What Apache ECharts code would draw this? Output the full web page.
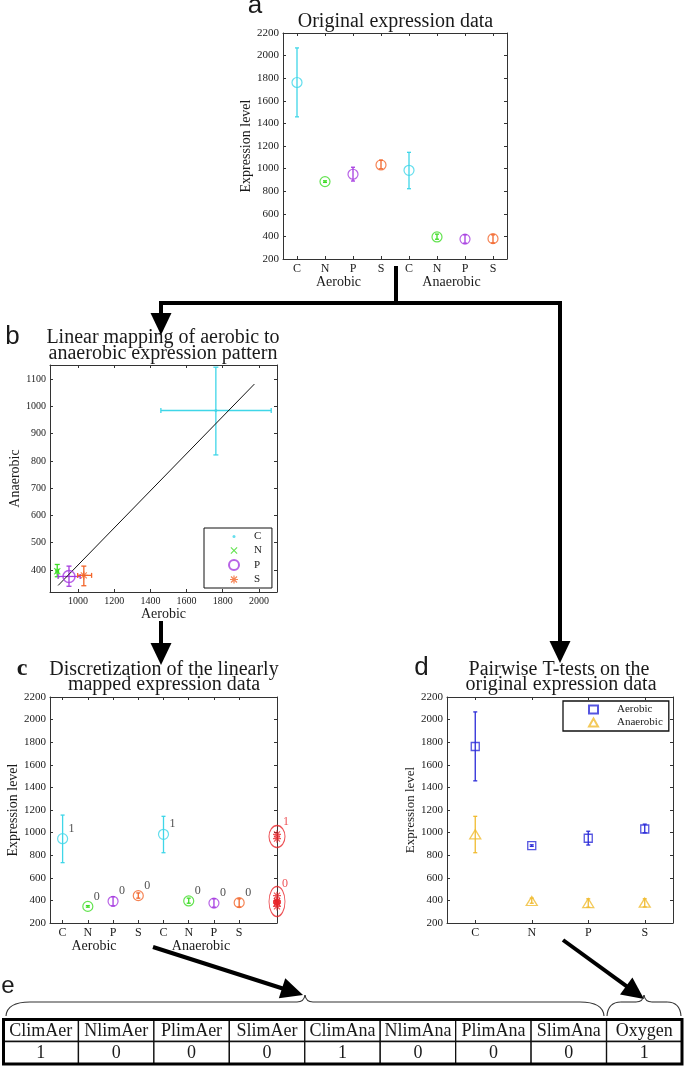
<!DOCTYPE html>
<html>
<head>
<meta charset="utf-8">
<script src="https://cdn.jsdelivr.net/npm/echarts@6/dist/echarts.min.js"></script>
<style>
html, body { margin: 0; padding: 0; background: #fff; }
#main { width: 685px; height: 1068px; }
</style>
</head>
<body>
<div id="main"></div>
<script type="text/javascript">
// original expression data (panels a, b, d)
var groups = ['C', 'N', 'P', 'S'];
var aerMean = [1762, 885, 950, 1032];
var aerLow = [1458, 878, 890, 998];
var aerHigh = [2068, 892, 1012, 1075];
var anaMean = [985, 395, 376, 380];
var anaLow = [822, 375, 340, 342];
var anaHigh = [1144, 420, 414, 414];

// linear fit aerobic -> anaerobic (panel b)
var fitX = [890, 1975];
var fitY = [343, 1082];

// aerobic data after the linear mapping (panel c)
var mapAerMean = [946, 347, 392, 442];
var mapAerLow = [734, 340, 352, 420];
var mapAerHigh = [1155, 354, 432, 466];
var discAer = [1, 0, 0, 0];
var discAna = [1, 0, 0, 0];
var clusterCenter = [966, 390];
var clusterLabel = ['1', '0'];

// discretized vector (panel e)
var tableHead = ['ClimAer', 'NlimAer', 'PlimAer', 'SlimAer', 'ClimAna', 'NlimAna', 'PlimAna', 'SlimAna', 'Oxygen'];
var tableVal = [1, 0, 0, 0, 1, 0, 0, 0, 1];

// ticks
var exprTicks = [200, 400, 600, 800, 1000, 1200, 1400, 1600, 1800, 2000, 2200];
var bXTicks = [1000, 1200, 1400, 1600, 1800, 2000];
var bYTicks = [400, 500, 600, 700, 800, 900, 1000, 1100];
var catLabels = groups.concat(groups);

var groupColor = ['#3fd6e8', '#3ddc25', '#a63ce0', '#f2652a'];
var aerColor = '#2b2bd8';
var anaColor = '#f0bb30';
var red = '#e8262b';
var INK = '#1a1a1a';
var AXIS = '#333';
var SERIF = '"Liberation Serif", serif';
var SANS = '"Liberation Sans", sans-serif';
var CLEAR = 'rgba(0,0,0,0)';

var dotPath = 'path://M0,0M10,10M3.5,5a1.5,1.5 0 1,0 3,0a1.5,1.5 0 1,0 -3,0Z';
var xPath = 'path://M0,0M10,10M1.5,2.3L2.3,1.5L5,4.2L7.7,1.5L8.5,2.3L5.8,5L8.5,7.7L7.7,8.5L5,5.8L2.3,8.5L1.5,7.7L4.2,5Z';
var starPath = 'path://M0,0M10,10M4.4,1h1.2v8h-1.2Z M1,4.4h8v1.2h-8Z M1.6,2.4L2.4,1.6L8.4,7.6L7.6,8.4Z M7.6,1.6L8.4,2.4L2.4,8.4L1.6,7.6Z';

function xPair(gi, min, max, ticks, fmt, fs, name, nameGap) {
  var base = {
    type: 'value', gridIndex: gi, min: min, max: max,
    splitLine: { show: false },
    axisLine: { onZero: false, lineStyle: { color: AXIS, width: 1 } },
    axisTick: { inside: true, length: 3, customValues: ticks, lineStyle: { color: AXIS } }
  };
  var bottom = Object.assign({}, base, {
    position: 'bottom',
    axisLabel: { customValues: ticks, formatter: fmt, fontFamily: SERIF, fontSize: fs, color: INK, margin: 4 }
  });
  if (name) {
    bottom.name = name; bottom.nameLocation = 'middle'; bottom.nameGap = nameGap;
    bottom.nameTextStyle = { fontFamily: SERIF, fontSize: 14, color: INK };
  }
  var top = Object.assign({}, base, { position: 'top', axisLabel: { show: false } });
  return [bottom, top];
}

function yPair(gi, min, max, ticks, fs, name, nameGap, nameSize) {
  var base = {
    type: 'value', gridIndex: gi, min: min, max: max,
    splitLine: { show: false },
    axisLine: { onZero: false, lineStyle: { color: AXIS, width: 1 } },
    axisTick: { inside: true, length: 3, customValues: ticks, lineStyle: { color: AXIS } }
  };
  var left = Object.assign({}, base, {
    position: 'left', name: name, nameLocation: 'middle', nameGap: nameGap,
    nameTextStyle: { fontFamily: SERIF, fontSize: nameSize, color: INK },
    axisLabel: { customValues: ticks, formatter: function (v) { return String(v); }, fontFamily: SERIF, fontSize: fs, color: INK, margin: 4 }
  });
  var right = Object.assign({}, base, { position: 'right', axisLabel: { show: false } });
  return [left, right];
}

function catFmt(v) { return catLabels[Math.round(v) - 1] || ''; }
function numFmt(v) { return String(v); }

// vertical error bars: [x, low, high]
function errBar(params, api) {
  var x = api.value(0);
  var a = api.coord([x, api.value(1)]);
  var b = api.coord([x, api.value(2)]);
  var c = 2;
  var st = { stroke: api.visual('color'), lineWidth: 1.3 };
  return { type: 'group', children: [
    { type: 'line', shape: { x1: a[0], y1: a[1], x2: b[0], y2: b[1] }, style: st },
    { type: 'line', shape: { x1: a[0] - c, y1: a[1], x2: a[0] + c, y2: a[1] }, style: st },
    { type: 'line', shape: { x1: b[0] - c, y1: b[1], x2: b[0] + c, y2: b[1] }, style: st }
  ] };
}

// 2D error bars: [x, y, xlo, xhi, ylo, yhi]
function errBar2(params, api) {
  var x = api.value(0), y = api.value(1);
  var l = api.coord([api.value(2), y]), r = api.coord([api.value(3), y]);
  var lo = api.coord([x, api.value(4)]), hi = api.coord([x, api.value(5)]);
  var c = 2.5;
  var st = { stroke: api.visual('color'), lineWidth: 1.3 };
  return { type: 'group', children: [
    { type: 'line', shape: { x1: l[0], y1: l[1], x2: r[0], y2: r[1] }, style: st },
    { type: 'line', shape: { x1: l[0], y1: l[1] - c, x2: l[0], y2: l[1] + c }, style: st },
    { type: 'line', shape: { x1: r[0], y1: r[1] - c, x2: r[0], y2: r[1] + c }, style: st },
    { type: 'line', shape: { x1: lo[0], y1: lo[1], x2: hi[0], y2: hi[1] }, style: st },
    { type: 'line', shape: { x1: lo[0] - c, y1: lo[1], x2: lo[0] + c, y2: lo[1] }, style: st },
    { type: 'line', shape: { x1: hi[0] - c, y1: hi[1], x2: hi[0] + c, y2: hi[1] }, style: st }
  ] };
}

function tableCell(params, api) {
  var col = api.value(0), row = api.value(1);
  var c = api.coord([col, row]);
  var s = api.size([1, 1]);
  var txt = row === 0 ? tableHead[col] : String(tableVal[col]);
  return { type: 'group', children: [
    { type: 'rect', shape: { x: c[0] - s[0] / 2, y: c[1] - s[1] / 2, width: s[0], height: s[1] },
      style: { fill: '#fff', stroke: '#111', lineWidth: 1.3 } },
    { type: 'text', style: { x: c[0], y: c[1] + 1, text: txt, align: 'center', verticalAlign: 'middle',
      fontFamily: SERIF, fontSize: 18, fill: INK } }
  ] };
}

// build data items
var aErr = [], aPts = [], cErr = [], cPts = [], cDisc = [], redPts = [];
groups.forEach(function (g, i) {
  aErr.push({ value: [i + 1, aerLow[i], aerHigh[i]], itemStyle: { color: groupColor[i] } });
  aErr.push({ value: [i + 5, anaLow[i], anaHigh[i]], itemStyle: { color: groupColor[i] } });
  aPts.push({ value: [i + 1, aerMean[i]], itemStyle: { borderColor: groupColor[i] } });
  aPts.push({ value: [i + 5, anaMean[i]], itemStyle: { borderColor: groupColor[i] } });
  cErr.push({ value: [i + 1, mapAerLow[i], mapAerHigh[i]], itemStyle: { color: groupColor[i] } });
  cErr.push({ value: [i + 5, anaLow[i], anaHigh[i]], itemStyle: { color: groupColor[i] } });
  cPts.push({ value: [i + 1, mapAerMean[i]], itemStyle: { borderColor: groupColor[i] } });
  cDisc.push(discAer[i]);
  cPts.push({ value: [i + 5, anaMean[i]], itemStyle: { borderColor: groupColor[i] } });
  cDisc.push(discAna[i]);
  redPts.push([9.5, mapAerMean[i]]);
  redPts.push([9.5, anaMean[i]]);
});

var bSymbols = [dotPath, xPath, 'circle', starPath];
var bSizes = [10, 10, 12, 10];
var bSeries = groups.map(function (g, i) {
  var hollow = g === 'P';
  return {
    type: 'scatter', name: g, xAxisIndex: 2, yAxisIndex: 2, z: 5,
    symbol: bSymbols[i], symbolSize: bSizes[i],
    itemStyle: hollow ? { color: CLEAR, borderColor: groupColor[i], borderWidth: 1.5 } : { color: groupColor[i] },
    data: [[aerMean[i], anaMean[i]]]
  };
});
var bErr = groups.map(function (g, i) {
  return { value: [aerMean[i], anaMean[i], aerLow[i], aerHigh[i], anaLow[i], anaHigh[i]], itemStyle: { color: groupColor[i] } };
});

var dAerErr = [], dAnaErr = [], dAer = [], dAna = [];
groups.forEach(function (g, i) {
  dAerErr.push([i + 1, aerLow[i], aerHigh[i]]);
  dAnaErr.push([i + 1, anaLow[i], anaHigh[i]]);
  dAer.push([i + 1, aerMean[i]]);
  dAna.push([i + 1, anaMean[i]]);
});

var tableData = [];
tableHead.forEach(function (h, i) { tableData.push([i, 0]); tableData.push([i, 1]); });

// annotation helpers
function text(x, y, str, font, extra) {
  var st = { text: str, font: font, fill: INK, align: 'center', verticalAlign: 'middle', textAlign: 'center', textVerticalAlign: 'middle' };
  if (extra) Object.assign(st, extra);
  return { type: 'text', x: x, y: y, silent: true, style: st };
}
function line(pts, w) {
  return { type: 'polyline', silent: true, shape: { points: pts }, style: { stroke: '#000', lineWidth: w, fill: null, lineJoin: 'miter' } };
}
function arrowHead(x0, y0, x1, y1, len, half) {
  var dx = x1 - x0, dy = y1 - y0, d = Math.sqrt(dx * dx + dy * dy);
  var ux = dx / d, uy = dy / d;
  var bx = x1 - ux * len, by = y1 - uy * len;
  return {
    base: [bx, by],
    head: { type: 'polygon', silent: true, shape: { points: [[x1, y1], [bx - uy * half, by + ux * half], [bx + uy * half, by - ux * half]] }, style: { fill: '#000' } }
  };
}
function arrow(x0, y0, x1, y1) {
  var h = arrowHead(x0, y0, x1, y1, 22, 10.5);
  return [line([[x0, y0], [h.base[0] + (x1 - x0) * 0.02, h.base[1] + (y1 - y0) * 0.02]], 4), h.head];
}
function curve(x1, y1, cx, cy, x2, y2) {
  return { type: 'bezierCurve', silent: true, shape: { x1: x1, y1: y1, cpx1: cx, cpy1: cy, x2: x2, y2: y2 },
    style: { stroke: '#333', lineWidth: 1.1, fill: null } };
}
function brace(x0, x1, tip, yTop, yEnd, r) {
  return [
    curve(x0, yEnd, x0 + 1, yTop, x0 + r, yTop),
    { type: 'line', silent: true, shape: { x1: x0 + r, y1: yTop, x2: tip - 8, y2: yTop }, style: { stroke: '#333', lineWidth: 1.1 } },
    curve(tip - 8, yTop, tip - 1, yTop, tip, yTop - 7),
    curve(tip, yTop - 7, tip + 1, yTop, tip + 8, yTop),
    { type: 'line', silent: true, shape: { x1: tip + 8, y1: yTop, x2: x1 - r, y2: yTop }, style: { stroke: '#333', lineWidth: 1.1 } },
    curve(x1 - r, yTop, x1 - 1, yTop, x1, yEnd)
  ];
}

var TITLE = '20px ' + SERIF;
var graphics = [
  text(255, 6, 'a', '26px ' + SANS),
  text(395.5, 22, 'Original expression data', TITLE),
  text(338.5, 282, 'Aerobic', '14px ' + SERIF),
  text(451.5, 282, 'Anaerobic', '14px ' + SERIF),
  text(12.5, 337, 'b', '26px ' + SANS),
  text(163, 338, 'Linear mapping of aerobic to', TITLE),
  text(163, 353.5, 'anaerobic expression pattern', TITLE),
  text(22, 669, 'c', 'bold 24px ' + SERIF),
  text(164, 669.5, 'Discretization of the linearly', TITLE),
  text(164, 684.5, 'mapped expression data', TITLE),
  text(94, 946, 'Aerobic', '14px ' + SERIF),
  text(201, 946, 'Anaerobic', '14px ' + SERIF),
  text(421.5, 668, 'd', '26px ' + SANS),
  text(559, 669.5, 'Pairwise T-tests on the', TITLE),
  text(561, 684.5, 'original expression data', TITLE),
  text(8, 986, 'e', '24px ' + SANS),
  // connector from panel a
  line([[396, 266], [396, 303]], 4),
  line([[161, 314], [161, 303], [560, 303], [560, 642]], 4),
  arrowHead(161, 303, 161, 335, 22, 10.5).head,
  arrowHead(560, 303, 560, 663, 22, 10.5).head,
  // table outer frame
  { type: 'rect', silent: true, z: 100, shape: { x: 3.5, y: 1019.5, width: 678.5, height: 44.5 }, style: { stroke: '#000', lineWidth: 3, fill: null } }
].concat(
  arrow(161, 621, 161, 665), arrow(153, 947, 303, 995), arrow(563, 940, 644, 999),
  brace(6, 604, 305, 1002, 1016, 24), brace(607, 681, 644, 1002, 1016, 14)
);

var xa = xPair(0, 0.5, 8.5, [1, 2, 3, 4, 5, 6, 7, 8], catFmt, 12);
var xb = xPair(1, 845, 2100, bXTicks, numFmt, 10, 'Aerobic', 14);
var xc = xPair(2, 0.5, 9.5, [1, 2, 3, 4, 5, 6, 7, 8], catFmt, 12);
var xd = xPair(3, 0.5, 4.5, [1, 2, 3, 4], function (v) { return groups[Math.round(v) - 1] || ''; }, 12);
var ya = yPair(0, 200, 2200, exprTicks, 11, 'Expression level', 28, 14);
var yb = yPair(1, 319, 1152, bYTicks, 10, 'Anaerobic', 24, 14);
var yc = yPair(2, 200, 2200, exprTicks, 11, 'Expression level', 29, 14);
var yd = yPair(3, 200, 2200, exprTicks, 11, 'Expression level', 22, 13);

var option = {
  backgroundColor: '#fff',
  animation: false,
  grid: [
    { left: 283, top: 33, width: 224, height: 226, outerBoundsMode: 'none' },
    { left: 50, top: 365, width: 227, height: 227, outerBoundsMode: 'none' },
    { left: 50, top: 697, width: 227, height: 226, outerBoundsMode: 'none' },
    { left: 447, top: 697, width: 226, height: 226, outerBoundsMode: 'none' },
    { left: 3, top: 1019, width: 679, height: 45, outerBoundsMode: 'none' }
  ],
  xAxis: xa.concat(xb, xc, xd, [{ type: 'category', gridIndex: 4, data: tableHead, show: false }]),
  yAxis: ya.concat(yb, yc, yd, [{ type: 'category', gridIndex: 4, data: ['head', 'val'], inverse: true, show: false }]),
  legend: [
    {
      data: [{ name: 'C', icon: dotPath }, 'N', 'P', 'S'],
      left: 204, top: 528, orient: 'vertical',
      itemWidth: 10, itemHeight: 10, itemGap: 3,
      padding: [3, 10, 3, 24],
      borderColor: '#111', borderWidth: 1, backgroundColor: '#fff',
      formatter: function (n) { return '{g| }' + n; },
      textStyle: { fontFamily: SERIF, fontSize: 11, color: INK, rich: { g: { width: 10 } } }
    },
    {
      data: ['Aerobic', 'Anaerobic'],
      left: 563, top: 701, orient: 'vertical',
      itemWidth: 9, itemHeight: 8, itemGap: 2,
      padding: [3, 6, 3, 25],
      borderColor: '#111', borderWidth: 1.3, backgroundColor: '#fff',
      formatter: function (n) { return '{g| }' + n; },
      textStyle: { fontFamily: SERIF, fontSize: 11, color: INK, rich: { g: { width: 14 } } }
    }
  ],
  graphic: graphics,
  series: [
    // panel a
    { type: 'custom', name: 'a-err', xAxisIndex: 0, yAxisIndex: 0, renderItem: errBar, data: aErr, silent: true },
    { type: 'scatter', name: 'a-pts', xAxisIndex: 0, yAxisIndex: 0, symbol: 'circle', symbolSize: 10,
      itemStyle: { color: CLEAR, borderWidth: 1.2 }, data: aPts, silent: true },
    // panel b
    { type: 'line', name: 'fit', xAxisIndex: 2, yAxisIndex: 2, showSymbol: false, silent: true,
      lineStyle: { color: '#111', width: 1 }, data: [[fitX[0], fitY[0]], [fitX[1], fitY[1]]] },
    { type: 'custom', name: 'b-err', xAxisIndex: 2, yAxisIndex: 2, renderItem: errBar2, data: bErr, silent: true, clip: false },
    bSeries[0], bSeries[1], bSeries[2], bSeries[3],
    // panel c
    { type: 'custom', name: 'c-err', xAxisIndex: 4, yAxisIndex: 4, renderItem: errBar, data: cErr, silent: true },
    { type: 'scatter', name: 'c-pts', xAxisIndex: 4, yAxisIndex: 4, symbol: 'circle', symbolSize: 10,
      itemStyle: { color: CLEAR, borderWidth: 1.2 }, data: cPts, silent: true,
      label: { show: true, position: 'inside', offset: [9, -10], fontFamily: SERIF, fontSize: 12, color: INK,
        formatter: function (p) { return String(cDisc[p.dataIndex]); } } },
    { type: 'scatter', name: 'c-red', xAxisIndex: 4, yAxisIndex: 4, symbol: starPath, symbolSize: 10,
      itemStyle: { color: red }, data: redPts, silent: true, clip: false },
    { type: 'scatter', name: 'c-cluster', xAxisIndex: 4, yAxisIndex: 4, symbol: 'circle', clip: false, silent: true,
      itemStyle: { color: CLEAR, borderColor: red, borderWidth: 1.2 },
      label: { show: true, position: 'inside', fontFamily: SERIF, fontSize: 12, color: red,
        formatter: function (p) { return clusterLabel[p.dataIndex]; } },
      data: [
        { value: [9.5, clusterCenter[0]], symbolSize: [16, 22], label: { offset: [9, -15] } },
        { value: [9.5, clusterCenter[1]], symbolSize: [16, 30], label: { offset: [8, -18] } }
      ] },
    // panel d
    { type: 'custom', name: 'd-aer-err', xAxisIndex: 6, yAxisIndex: 6, renderItem: errBar, data: dAerErr,
      itemStyle: { color: aerColor }, silent: true },
    { type: 'custom', name: 'd-ana-err', xAxisIndex: 6, yAxisIndex: 6, renderItem: errBar, data: dAnaErr,
      itemStyle: { color: anaColor }, silent: true },
    { type: 'scatter', name: 'Aerobic', xAxisIndex: 6, yAxisIndex: 6, symbol: 'rect', symbolSize: 8,
      itemStyle: { color: CLEAR, borderColor: aerColor, borderWidth: 1.3 }, data: dAer, silent: true },
    { type: 'scatter', name: 'Anaerobic', xAxisIndex: 6, yAxisIndex: 6, symbol: 'triangle', symbolSize: [11, 9],
      itemStyle: { color: CLEAR, borderColor: anaColor, borderWidth: 1.3 }, data: dAna, silent: true },
    // panel e
    { type: 'custom', name: 'table', xAxisIndex: 8, yAxisIndex: 8, renderItem: tableCell, data: tableData, silent: true }
  ]
};

var myChart = echarts.init(document.getElementById('main'));
myChart.setOption(option);
</script>
</body>
</html>
